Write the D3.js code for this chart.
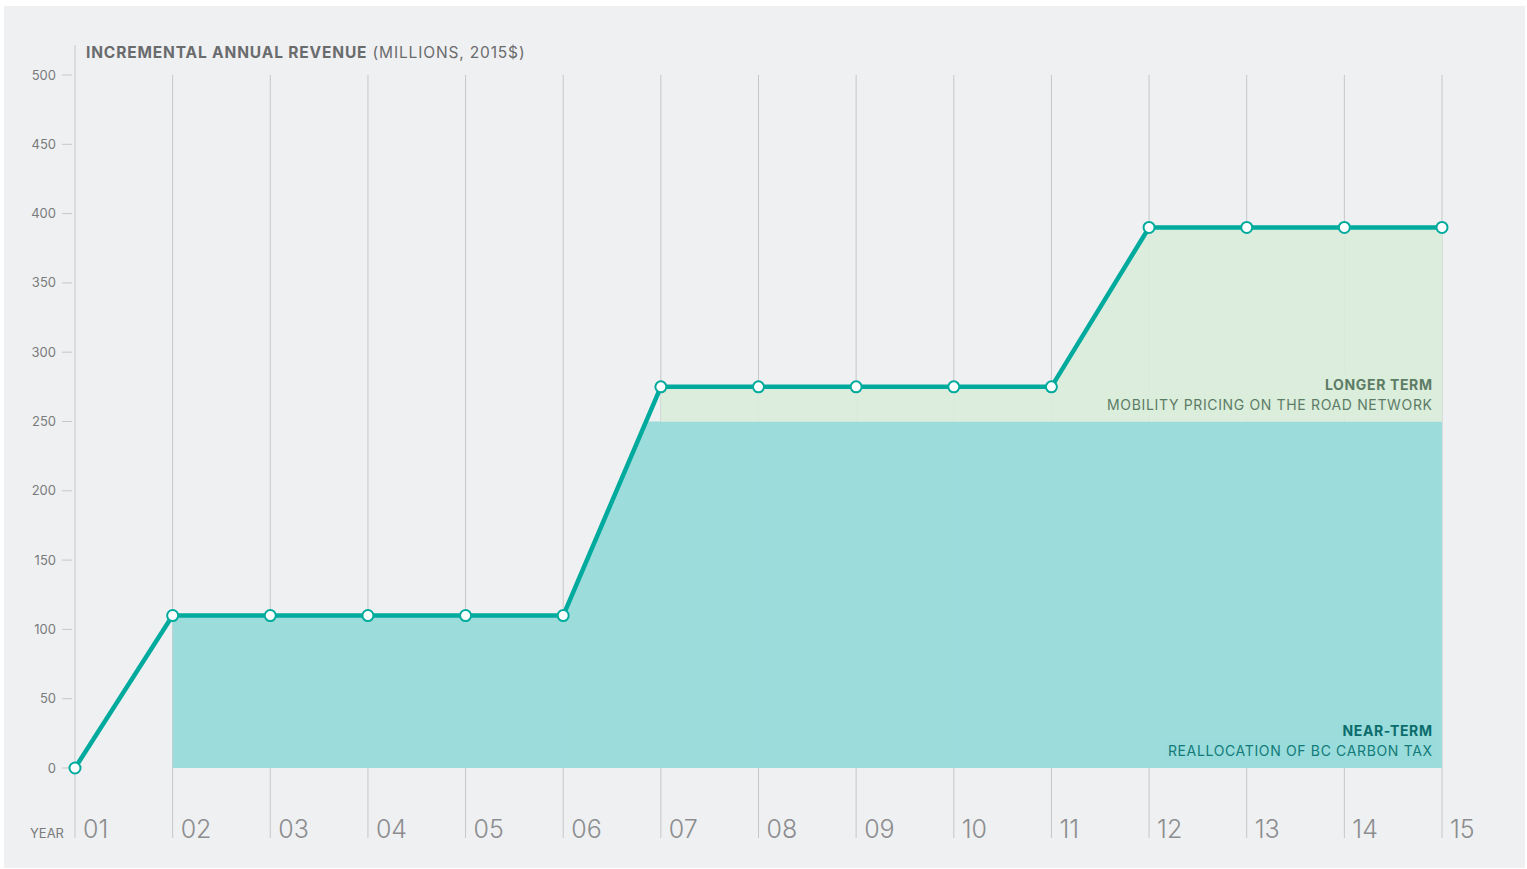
<!DOCTYPE html>
<html>
<head>
<meta charset="utf-8">
<script src="https://cdn.jsdelivr.net/npm/d3@7"></script>
<style>
  html, body { margin: 0; padding: 0; background: #ffffff; }
  svg { display: block; font-family: Inter, "Noto Sans", sans-serif; }
</style>
</head>
<body>
<svg id="chart" width="1527" height="869"></svg>
<script>
// chart data
const years = ['01', '02', '03', '04', '05', '06', '07', '08', '09', '10', '11', '12', '13', '14', '15'];
const revenue = [0, 110, 110, 110, 110, 110, 275, 275, 275, 275, 275, 390, 390, 390, 390];
const yTicks = [0, 50, 100, 150, 200, 250, 300, 350, 400, 450, 500];
const nearTermCap = 250;
const nearTermStart = 1;   // index of year 02
const longerTermStart = 6; // index of year 07

const svg = d3.select('#chart');

svg.append('rect')
  .attr('x', 4).attr('y', 6)
  .attr('width', 1521).attr('height', 862)
  .attr('fill', '#eff0f2');

const x = d3.scalePoint().domain(years).range([75, 1442]);
const y = d3.scaleLinear().domain([0, 500]).range([768, 75]);

const pts = years.map((yr, i) => ({ yr, i, v: revenue[i] }));

// vertical grid lines (behind fills)
const grid = svg.append('g');
years.forEach((yr, i) => {
  grid.append('line')
    .attr('x1', x(yr)).attr('x2', x(yr))
    .attr('y1', i === 0 ? 45 : y(500)).attr('y2', 838)
    .attr('stroke', '#c6c7c9').attr('stroke-width', 1);
});

// near-term fill: from year 02, under min(line, cap)
const nearPts = pts.slice(nearTermStart);
let nearData = nearPts.map(d => ({ xv: x(d.yr), v: Math.min(d.v, nearTermCap) }));
// add the point where the line crosses the cap (between 06 and 07)
const crossIdx = nearPts.findIndex((d, k) => k > 0 && nearPts[k - 1].v < nearTermCap && d.v > nearTermCap);
if (crossIdx > 0) {
  const a = nearPts[crossIdx - 1], b = nearPts[crossIdx];
  const t = (nearTermCap - a.v) / (b.v - a.v);
  const cx = x(a.yr) + t * (x(b.yr) - x(a.yr));
  nearData.splice(crossIdx, 0, { xv: cx, v: nearTermCap });
}
svg.append('path')
  .attr('d', d3.area().x(d => d.xv).y0(y(0)).y1(d => y(d.v))(nearData))
  .attr('fill', '#99dcdb')
  .attr('fill-opacity', 0.97);

// longer-term fill: from year 07, between cap and line
const longPts = pts.slice(longerTermStart);
svg.append('path')
  .attr('d', d3.area().x(d => x(d.yr)).y0(y(nearTermCap)).y1(d => y(d.v))(longPts))
  .attr('fill', '#dbeddb')
  .attr('fill-opacity', 0.92);

// y axis ticks
const yAxis = svg.append('g');
yTicks.forEach(t => {
  yAxis.append('line')
    .attr('x1', 62).attr('x2', 72)
    .attr('y1', y(t)).attr('y2', y(t))
    .attr('stroke', '#c6c7c9');
  yAxis.append('text')
    .attr('x', 56).attr('y', y(t))
    .attr('dy', '0.35em')
    .attr('text-anchor', 'end')
    .attr('font-size', 13)
    .attr('fill', '#7a7b7d')
    .text(t);
});

// title
const title = svg.append('text')
  .attr('x', 86).attr('y', 58)
  .attr('font-size', 15.5)
  .attr('letter-spacing', 0.85)
  .attr('fill', '#6a6b6d');
title.append('tspan').attr('font-weight', 700).text('INCREMENTAL ANNUAL REVENUE');
title.append('tspan').attr('font-weight', 400).text(' (MILLIONS, 2015$)');

// year labels
svg.append('text')
  .attr('x', 64).attr('y', 838)
  .attr('text-anchor', 'end')
  .attr('font-size', 13)
  .attr('fill', '#7a7b7d')
  .text('YEAR');
years.forEach(yr => {
  svg.append('text')
    .attr('x', x(yr) + 8).attr('y', 838)
    .attr('font-size', 25)
    .attr('font-weight', 300)
    .attr('fill', '#8c8d8f')
    .text(yr);
});

// annotations with background boxes that mask the grid
const labels = [
  { text: 'LONGER TERM', bold: true, y: 390, color: '#5d7c66', bg: '#dbeddb' },
  { text: 'MOBILITY PRICING ON THE ROAD NETWORK', bold: false, y: 410, color: '#5d7c66', bg: '#dbeddb' },
  { text: 'NEAR-TERM', bold: true, y: 736, color: '#0a6c6b', bg: '#99dcdb' },
  { text: 'REALLOCATION OF BC CARBON TAX', bold: false, y: 756, color: '#127b79', bg: '#99dcdb' }
];
const ls = 0.65;
labels.forEach(l => {
  const g = svg.append('g');
  const txt = g.append('text')
    .attr('x', 1432 + ls).attr('y', l.y)
    .attr('text-anchor', 'end')
    .attr('font-size', 14)
    .attr('letter-spacing', ls)
    .attr('font-weight', l.bold ? 700 : 400)
    .attr('fill', l.color)
    .text(l.text);
  const bb = txt.node().getBBox();
  g.insert('rect', 'text')
    .attr('x', bb.x - 2).attr('y', bb.y - 2)
    .attr('width', bb.width + 4).attr('height', bb.height + 4)
    .attr('fill', l.bg);
});

// revenue line
svg.append('path')
  .attr('d', d3.line().x(d => x(d.yr)).y(d => y(d.v))(pts))
  .attr('fill', 'none')
  .attr('stroke', '#00ab9e')
  .attr('stroke-width', 4.5)
  .attr('stroke-linejoin', 'round');

svg.append('g').selectAll('circle')
  .data(pts)
  .join('circle')
  .attr('cx', d => x(d.yr))
  .attr('cy', d => y(d.v))
  .attr('r', 5.5)
  .attr('fill', '#ffffff')
  .attr('stroke', '#00ab9e')
  .attr('stroke-width', 2);
</script>
</body>
</html>
